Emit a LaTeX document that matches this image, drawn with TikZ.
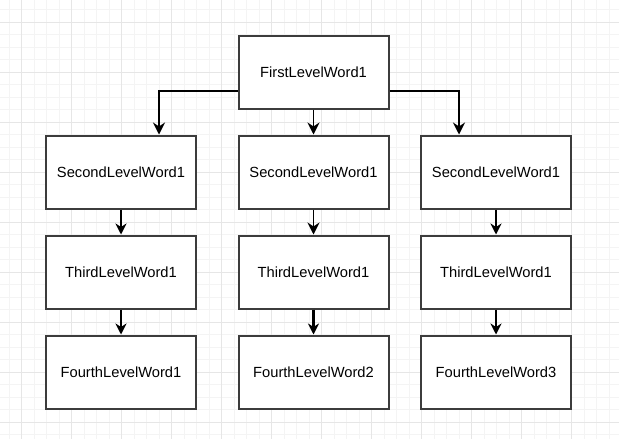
\documentclass[tikz,border=0pt]{standalone}
\usepackage{fontspec}
\setmainfont{Liberation Sans}
\usetikzlibrary{arrows.meta}
\definecolor{gridminor}{HTML}{F4F4F4}
\definecolor{gridmajor}{HTML}{E6E6E6}
\definecolor{boxline}{HTML}{3C3C3C}
\tikzset{
  wordbox/.style={draw=boxline, line width=2pt, fill=white, rectangle,
    minimum width=150pt, minimum height=73pt, inner sep=0pt,
    font=\fontsize{14.7pt}{17pt}\selectfont, text=black},
  thinlink/.style={draw=black, line width=1.3pt,
    -{Stealth[length=12pt,width=12pt,inset=4pt]}},
  thicklink/.style={draw=black, line width=2.4pt,
    -{Stealth[length=11pt,width=11pt,inset=3.5pt]}}
}
\begin{document}
\begin{tikzpicture}[x=1pt,y=-1pt]
\useasboundingbox (0,0) rectangle (619,439);
\fill[white] (0,0) rectangle (619,439);
% grid
\foreach \i in {-1,...,50} {
  \draw[gridminor, line width=0.8pt] ({9+12.5*\i},0) -- ({9+12.5*\i},439);
  \draw[gridminor, line width=0.8pt] (0,{9.8+12.5*\i}) -- (619,{9.8+12.5*\i});
}
\foreach \i in {0,...,12} {
  \draw[gridmajor, line width=1pt] ({21.5+50*\i},0) -- ({21.5+50*\i},439);
  \draw[gridmajor, line width=1pt] (0,{22.3+50*\i}) -- (619,{22.3+50*\i});
}
% nodes
\node[wordbox, minimum height=73pt] (top) at (313.5,72) {FirstLevelWord1};
\node[wordbox] (s1) at (121,172) {SecondLevelWord1};
\node[wordbox] (s2) at (313.5,172) {SecondLevelWord1};
\node[wordbox] (s3) at (496,172) {SecondLevelWord1};
\node[wordbox] (t1) at (121,272) {ThirdLevelWord1};
\node[wordbox] (t2) at (313.5,272) {ThirdLevelWord1};
\node[wordbox] (t3) at (496,272) {ThirdLevelWord1};
\node[wordbox] (f1) at (121,372) {FourthLevelWord1};
\node[wordbox] (f2) at (313.5,372) {FourthLevelWord2};
\node[wordbox] (f3) at (496,372) {FourthLevelWord3};
% connectors
\draw[thinlink] ([yshift=-19pt]top.west) -| ([xshift=38pt]s1.north);
\draw[thinlink] (top.south) -- (s2.north);
\draw[thinlink] ([yshift=-19pt]top.east) -| ([xshift=-37pt]s3.north);
\draw[thicklink] (s1.south) -- (t1.north);
\draw[thinlink] (s2.south) -- (t2.north);
\draw[thicklink] (s3.south) -- (t3.north);
\draw[thicklink] (t1.south) -- (f1.north);
\draw[thicklink] (t2.south) -- (f2.north);
\draw[thicklink] (t3.south) -- (f3.north);
\end{tikzpicture}
\end{document}
